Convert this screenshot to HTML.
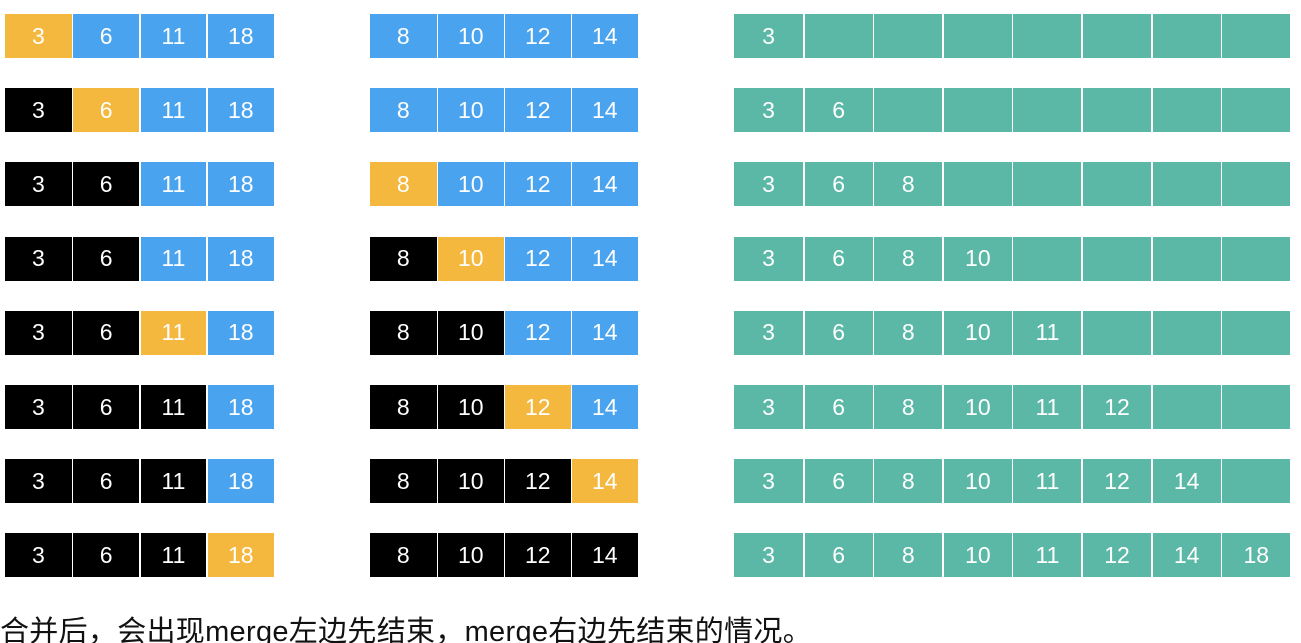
<!DOCTYPE html>
<html><head><meta charset="utf-8"><style>
html,body{margin:0;padding:0;background:#fff;width:1301px;height:643px;overflow:hidden;position:relative;font-family:"Liberation Sans","Noto Sans CJK SC",sans-serif}
.c{position:absolute;color:#fff;font-size:23px;display:flex;align-items:center;justify-content:center;box-sizing:border-box}
#cap{position:absolute;left:0;top:608px;font-size:29px;color:#111;white-space:nowrap;letter-spacing:0.3px}
</style></head><body>
<div id="stage"></div>
<div id="cap">合并后，会出现merge左边先结束，merge右边先结束的情况。</div>
<script>
const leftVals=[3,6,11,18];
const midVals=[8,10,12,14];
const merged=[3,6,8,10,11,12,14,18];
const leftPtr=[0,1,2,2,2,3,3,3];
const midPtr=[0,0,0,1,2,2,3,4];
const activeSide=['L','L','M','M','L','M','M','L'];
const C={o:'#F4B83F',b:'#4AA3EE',k:'#000',g:'#5BB8A6'};
const st=document.getElementById('stage');
function cell(x,y,w,h,bg,t,name){
  const d=document.createElement('div');
  d.className='c';
  d.style.cssText=`left:${x}px;top:${y}px;width:${w}px;height:${h}px;background:${bg}`;
  d.textContent=t;
  
  
  st.appendChild(d);
}
for(let r=0;r<8;r++){
  const y=14+r*74.2,h=44;
  const lw=67.3;
  for(let i=0;i<4;i++){
    let col=i<leftPtr[r]?C.k:C.b;
    if(activeSide[r]==='L'&&i===leftPtr[r])col=C.o;
    cell(5+i*lw+(i?1:0),y,lw-(i?1.5:0.5),h,col,leftVals[i],'left-cell');
  }
  for(let i=0;i<4;i++){
    let col=i<midPtr[r]?C.k:C.b;
    if(activeSide[r]==='M'&&i===midPtr[r])col=C.o;
    cell(370+i*67+(i?1:0),y,67-(i?1.5:0.5),h,col,midVals[i],'right-cell');
  }
  const gw=69.6;
  for(let i=0;i<8;i++){
    cell(734+i*gw+(i?1:0),y,gw-(i?1.5:0.5),h,C.g,i<=r?merged[i]:'','merged-cell');
  }
}
</script>
</body></html>
